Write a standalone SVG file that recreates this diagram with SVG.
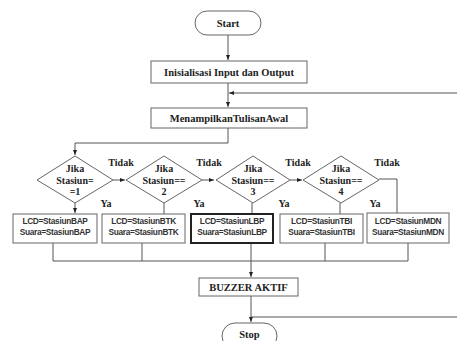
<svg xmlns="http://www.w3.org/2000/svg" width="457" height="341" viewBox="0 0 457 341">
<defs>
<marker id="ah" viewBox="0 0 10 10" refX="10" refY="5" markerWidth="5" markerHeight="5" orient="auto"><path d="M0,1 L10,5 L0,9 z" fill="#222"/></marker>
<style>
.s{fill:#fff;stroke:#666;stroke-width:1}
.b{fill:#fff;stroke:#222;stroke-width:2}
.l{fill:none;stroke:#555;stroke-width:1}
.t{font-family:"Liberation Serif","DejaVu Serif",serif;font-weight:bold;font-size:10.5px;fill:#222;text-anchor:middle}
.d{font-family:"Liberation Serif","DejaVu Serif",serif;font-weight:bold;font-size:10px;fill:#222;text-anchor:middle}
.n{font-family:"Liberation Sans","DejaVu Sans",sans-serif;font-weight:bold;font-size:8.3px;fill:#333;text-anchor:middle;letter-spacing:-0.3px}
</style>
</defs>
<rect width="457" height="341" fill="#fff"/>
<g id="connectors">
<path class="l" d="M228,35 V60" marker-end="url(#ah)"/>
<path class="l" d="M228,83 V107" marker-end="url(#ah)"/>
<path class="l" d="M457,93 H229" marker-end="url(#ah)"/>
<path class="l" d="M228,128 V143 H75 V155" marker-end="url(#ah)"/>
<path class="l" d="M113,180 H125" marker-end="url(#ah)"/>
<path class="l" d="M202,180 H214" marker-end="url(#ah)"/>
<path class="l" d="M290,180 H302" marker-end="url(#ah)"/>
<path class="l" d="M379,179 H397 V213"/>
<path class="l" d="M75,203 V213" marker-end="url(#ah)"/>
<path class="l" d="M164,203 V214"/>
<path class="l" d="M252,203 V214"/>
<path class="l" d="M340,203 V214"/>
<path class="l" d="M53,243 V261 H408 V243"/>
<path class="l" d="M142,243 V261"/>
<path class="l" d="M325,243 V261"/>
<path class="l" d="M251,243 V277" marker-end="url(#ah)"/>
<path class="l" d="M251,296 V322" marker-end="url(#ah)"/>
<path class="l" d="M457,317 H251"/>
<text class="d" x="121" y="166">Tidak</text>
<text class="d" x="106" y="207">Ya</text>
<text class="d" x="209" y="166">Tidak</text>
<text class="d" x="199" y="207">Ya</text>
<text class="d" x="298" y="166">Tidak</text>
<text class="d" x="284" y="207">Ya</text>
<text class="d" x="387" y="166">Tidak</text>
<text class="d" x="375" y="207">Ya</text>
</g>
<g id="start"><rect class="s" x="195" y="11" width="66" height="24" rx="12"/><text class="t" x="228" y="27">Start</text></g>
<g id="init"><rect class="s" x="151" y="61" width="156" height="22"/><text class="t" x="229" y="76">Inisialisasi Input dan Output</text></g>
<g id="tampil"><rect class="s" x="151" y="108" width="156" height="20"/><text class="t" x="229" y="122">MenampilkanTulisanAwal</text></g>
<g id="jika1"><path class="s" d="M75,156 L113,180 L75,203 L37,180 Z"/><text class="d" x="75" y="172">Jika</text><text class="d" x="75" y="184">Stasiun=</text><text class="d" x="75" y="195">=1</text></g>
<g id="jika2"><path class="s" d="M164,156 L202,180 L164,203 L126,180 Z"/><text class="d" x="164" y="172">Jika</text><text class="d" x="164" y="184">Stasiun==</text><text class="d" x="164" y="195">2</text></g>
<g id="jika3"><path class="s" d="M253,156 L290,180 L253,203 L216,180 Z"/><text class="d" x="253" y="172">Jika</text><text class="d" x="253" y="184">Stasiun==</text><text class="d" x="253" y="195">3</text></g>
<g id="jika4"><path class="s" d="M341,156 L379,180 L341,203 L303,180 Z"/><text class="d" x="341" y="172">Jika</text><text class="d" x="341" y="184">Stasiun==</text><text class="d" x="341" y="195">4</text></g>
<g id="bap"><rect class="s" x="13" y="214" width="84" height="29"/><text class="n" x="55" y="224">LCD=StasiunBAP</text><text class="n" x="55" y="235">Suara=StasiunBAP</text></g>
<g id="btk"><rect class="s" x="102" y="214" width="83" height="29"/><text class="n" x="143.5" y="224">LCD=StasiunBTK</text><text class="n" x="143.5" y="235">Suara=StasiunBTK</text></g>
<g id="lbp"><rect class="b" x="191" y="214" width="82" height="29"/><text class="n" x="232" y="224">LCD=StasiunLBP</text><text class="n" x="232" y="235">Suara=StasiunLBP</text></g>
<g id="tbi"><rect class="s" x="280" y="214" width="83" height="29"/><text class="n" x="321.5" y="224">LCD=StasiunTBI</text><text class="n" x="321.5" y="235">Suara=StasiunTBI</text></g>
<g id="mdn"><rect class="s" x="367" y="213" width="82" height="30"/><text class="n" x="408" y="224">LCD=StasiunMDN</text><text class="n" x="408" y="235">Suara=StasiunMDN</text></g>
<g id="buzzer"><rect class="s" x="199" y="278" width="99" height="18"/><text class="t" x="248.5" y="291">BUZZER AKTIF</text></g>
<g id="stop"><rect class="s" x="222" y="323" width="55" height="26" rx="13"/><text class="t" x="249.5" y="338">Stop</text></g>
</svg>
